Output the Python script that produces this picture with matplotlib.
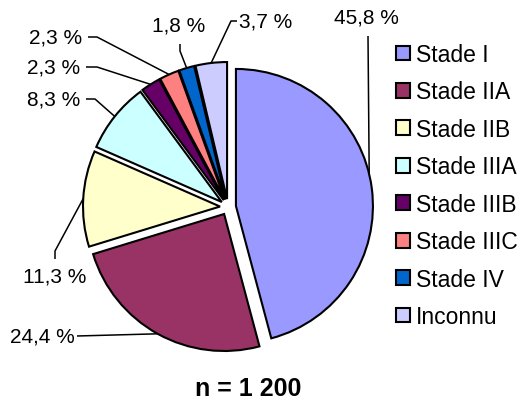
import numpy as np
import matplotlib
matplotlib.use("Agg")
import matplotlib.pyplot as plt

categories = ["Stade I", "Stade IIA", "Stade IIB", "Stade IIIA",
              "Stade IIIB", "Stade IIIC", "Stade IV", "Inconnu"]
values = [45.8, 24.4, 11.3, 8.3, 2.3, 2.3, 1.8, 3.7]
labels = ["45,8 %", "24,4 %", "11,3 %", "8,3 %", "2,3 %", "2,3 %", "1,8 %", "3,7 %"]
colors = ["#9999FF", "#993366", "#FFFFCC", "#CCFFFF",
          "#660066", "#FF8080", "#0066CC", "#CCCCFF"]
title = "n = 1 200"

W, H = 522, 402
plt.rcParams['font.family'] = ['Liberation Sans', 'DejaVu Sans']
fig = plt.figure(figsize=(W / 100, H / 100), dpi=100)
ax = fig.add_axes([0, 0, 1, 1])

# layout in pixels (y measured from top)
cx, cy, R = 228, 208, 137
expl = 8  # pixels (data units)
wedges, _ = ax.pie(values, colors=colors, startangle=90, counterclock=False,
                   center=(cx, H - cy), radius=R, explode=[expl] * len(values),
                   wedgeprops=dict(edgecolor="black", linewidth=1.5),
                   frame=False)
ax.set_xlim(0, W)
ax.set_ylim(0, H)
ax.set_aspect("equal")
ax.axis("off")

# label text centre and elbow points (pixels, y from top)
text_pos = [(366, 18), (42, 337), (55, 277), (54, 100),
            (54, 68), (56, 38), (179, 26), (266, 22)]
elbows = [[(368, 37)],
          [(77, 337)],
          [(55, 260), (55, 252)],
          [(86, 100), (95, 100)],
          [(86, 68), (97, 68)],
          [(88, 38), (97, 38)],
          [(180, 45), (180, 52)],
          [(237, 22), (231, 22)]]
angle_override = {0: 13.4}

for i, w in enumerate(wedges):
    ang = angle_override.get(i, (w.theta1 + w.theta2) / 2)
    wx, wy = w.center
    px = wx + w.r * np.cos(np.radians(ang))
    py = wy + w.r * np.sin(np.radians(ang))
    pts = [(x, H - y) for x, y in elbows[i]] + [(px, py)]
    xs, ys = zip(*pts)
    ax.plot(xs, ys, color="black", linewidth=1.1, solid_capstyle="butt")
    tx, ty = text_pos[i]
    ax.text(tx, H - ty, labels[i], ha="center", va="center", fontsize=15)

leg = ax.legend(wedges, categories, loc="upper left",
                bbox_to_anchor=(396 / W, 1 - 44 / H), frameon=False,
                fontsize=16.5, handlelength=0.62, handleheight=0.62,
                handletextpad=0.25, labelspacing=0.63, borderpad=0,
                borderaxespad=0)
for h in leg.legend_handles:
    h.set_linewidth(1.5)
    h.set_edgecolor("black")

ax.text(248, H - 389, title, ha="center", va="center", fontsize=18,
        fontweight="bold")

fig.savefig("out.png", dpi=100)
